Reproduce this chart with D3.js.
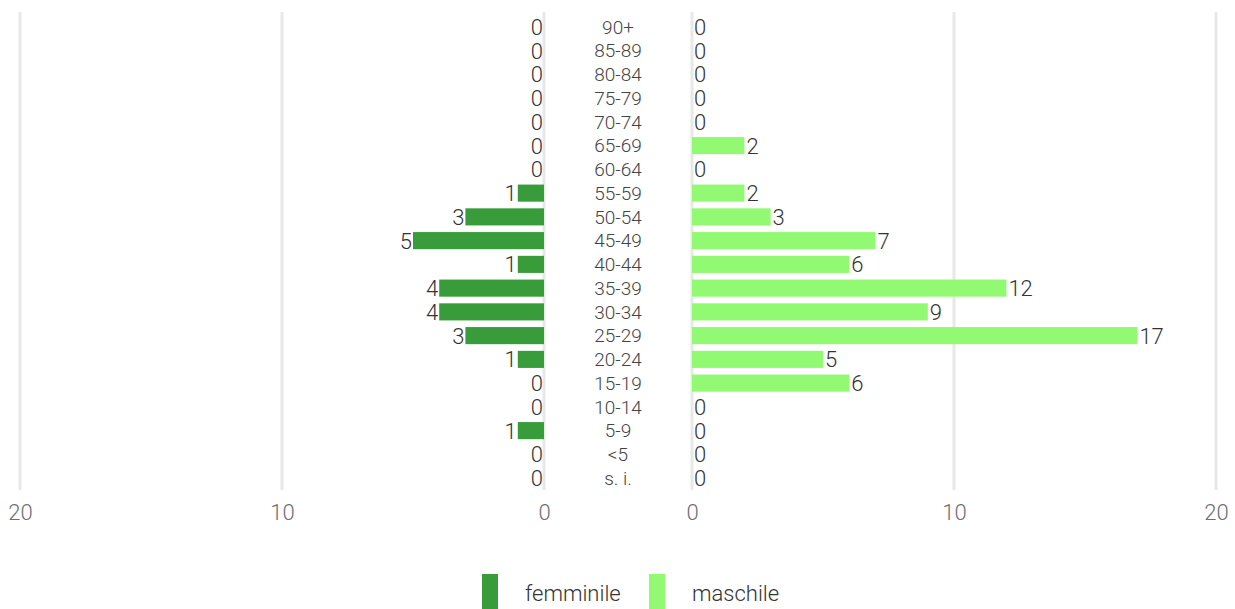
<!DOCTYPE html>
<html>
<head>
<meta charset="utf-8">
<script src="https://cdn.jsdelivr.net/npm/d3@7"></script>
<style>
  body { margin: 0; background: #fff; font-family: Roboto, sans-serif; }
</style>
</head>
<body>
<script>

// age classes, top to bottom
var ageGroups = ["90+", "85-89", "80-84", "75-79", "70-74", "65-69", "60-64", "55-59", "50-54", "45-49",
                 "40-44", "35-39", "30-34", "25-29", "20-24", "15-19", "10-14", "5-9", "<5", "s. i."]
var femminile = [0, 0, 0, 0, 0, 0, 0, 1, 3, 5, 1, 4, 4, 3, 1, 0, 0, 1, 0, 0]
var maschile  = [0, 0, 0, 0, 0, 2, 0, 2, 3, 7, 6, 12, 9, 17, 5, 6, 0, 0, 0, 0]
var tickValues = [0, 10, 20]
var seriesNames = ["femminile", "maschile"]

var colF = "#389c3b", colM = "#92f972"

var svg = d3.select("body").append("svg")
          .attr("width", 1235)
          .attr("height", 609);

// scales
var xLeft = d3.scaleLinear().domain([0, 20]).range([544, 20]);
var xRight = d3.scaleLinear().domain([0, 20]).range([692, 1216]);
var y = d3.scaleBand().domain(ageGroups).range([15, 490]).paddingInner(0.28).paddingOuter(0.14);

// gridlines
[xLeft, xRight].forEach(function(sc) {
    svg.selectAll(null)
        .data(tickValues)
        .enter().append("line")
            .attr("x1", function(d) {return sc(d)})
            .attr("x2", function(d) {return sc(d)})
            .attr("y1", 12)
            .attr("y2", 490)
            .attr("stroke", "#e8e8e8")
            .attr("stroke-width", 3);
});

// axes
[xLeft, xRight].forEach(function(sc) {
    var ax = svg.append("g")
        .attr("transform", "translate(0,505)")
        .call(d3.axisBottom(sc).tickValues(tickValues).tickSize(0).tickPadding(0));
    ax.select(".domain").remove();
    ax.selectAll("text")
        .attr("dy", "0.68em")
        .attr("fill", "#6e6e6e")
        .style("font-family", "Roboto, sans-serif")
        .style("font-weight", 300)
        .style("font-size", "22px");
});

// bars
svg.selectAll(".barF")
    .data(femminile)
    .enter().append("rect")
        .attr("class", "barF")
        .attr("x", function(d) {return xLeft(d)})
        .attr("y", function(d, i) {return y(ageGroups[i])})
        .attr("width", function(d) {return xLeft(0) - xLeft(d)})
        .attr("height", y.bandwidth())
        .attr("fill", colF);

svg.selectAll(".barM")
    .data(maschile)
    .enter().append("rect")
        .attr("class", "barM")
        .attr("x", xRight(0))
        .attr("y", function(d, i) {return y(ageGroups[i])})
        .attr("width", function(d) {return xRight(d) - xRight(0)})
        .attr("height", y.bandwidth())
        .attr("fill", colM);

// value labels
svg.selectAll(".valF")
    .data(femminile)
    .enter().append("text")
        .attr("class", "valF")
        .text(function(d) {return d})
        .attr("x", function(d) {return xLeft(d) - 1})
        .attr("y", function(d, i) {return y(ageGroups[i]) + y.bandwidth() / 2})
        .attr("dy", "0.36em")
        .attr("text-anchor", "end")
        .attr("fill", "#333")
        .style("font-size", "22px")
        .style("font-weight", 300);

svg.selectAll(".valM")
    .data(maschile)
    .enter().append("text")
        .attr("class", "valM")
        .text(function(d) {return d})
        .attr("x", function(d) {return xRight(d) + 2})
        .attr("y", function(d, i) {return y(ageGroups[i]) + y.bandwidth() / 2})
        .attr("dy", "0.36em")
        .attr("fill", "#333")
        .style("font-size", "22px")
        .style("font-weight", 300);

// age labels in the middle
svg.selectAll(".age")
    .data(ageGroups)
    .enter().append("text")
        .attr("class", "age")
        .text(function(d) {return d})
        .attr("x", 618)
        .attr("y", function(d) {return y(d) + y.bandwidth() / 2})
        .attr("dy", "0.36em")
        .attr("text-anchor", "middle")
        .attr("fill", "#444")
        .style("font-size", "19px")
        .style("font-weight", 300);

// legend
var legend = svg.selectAll(".legend")
    .data(seriesNames)
    .enter().append("g")
        .attr("class", "legend")
        .attr("transform", function(d, i) {return "translate(" + (482 + i * 167) + ",574)"});

legend.append("rect")
    .attr("width", 16)
    .attr("height", 35)
    .attr("fill", function(d, i) {return i == 0 ? colF : colM});

legend.append("text")
    .text(function(d) {return d})
    .attr("x", 43)
    .attr("y", 19)
    .attr("dy", "0.36em")
    .attr("fill", "#333")
    .style("font-size", "22px")
    .style("font-weight", 300);

</script>
</body>
</html>
